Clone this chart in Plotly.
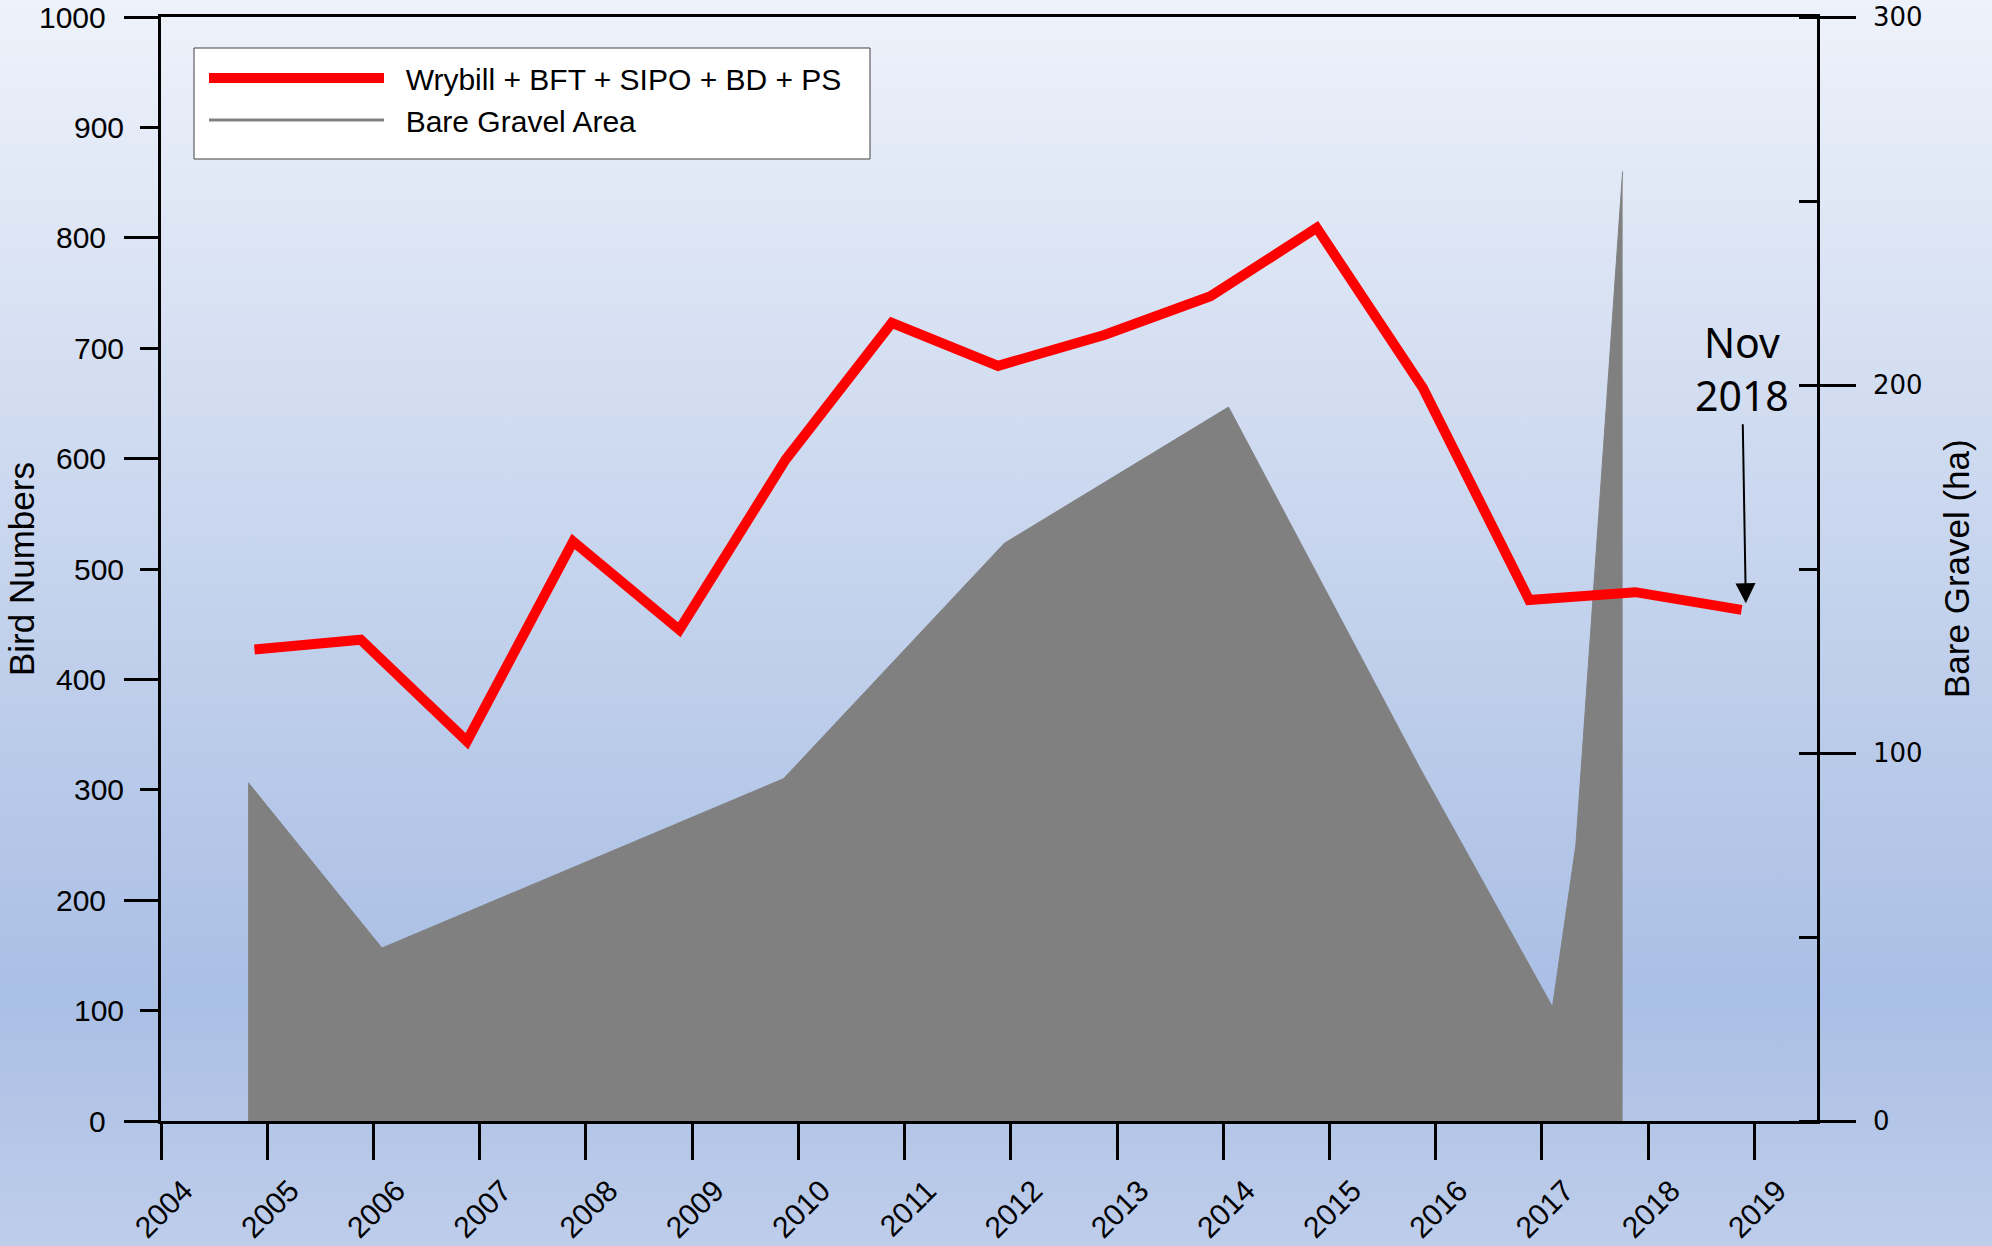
import base64
import plotly.graph_objects as go

# survey dates (decimal years) and bird totals
bird_x = [2004.88, 2005.88, 2006.88, 2007.88, 2008.88, 2009.88, 2010.88, 2011.88,
          2012.88, 2013.88, 2014.88, 2015.88, 2016.88, 2017.88, 2018.88]
bird_numbers = [427, 436, 344, 525, 445, 599, 723, 684, 712, 747, 809, 664, 472, 479, 463]

# bare gravel area (ha)
gravel_x = [2004.82, 2006.08, 2009.86, 2011.94, 2014.05, 2015.85, 2017.10, 2017.32, 2017.76]
gravel_ha = [92, 47, 93, 157, 194, 96, 31, 75, 258]

year_ticks = list(range(2004, 2020))
bird_ticks = list(range(0, 1001, 100))
gravel_ticks = [0, 100, 200, 300]

W, H = 1992, 1246
L, T = 161, 17
R, B = W - 1817, H - 1121
PW, PH = W - L - R, H - T - B

FONT = "Arial, Liberation Sans, sans-serif"
NBSP = "\u00a0\u00a0"

svg = (
    '<svg xmlns="http://www.w3.org/2000/svg" width="%d" height="%d" preserveAspectRatio="none">'
    '<defs><linearGradient id="g" x1="0" y1="0" x2="0" y2="1">'
    '<stop offset="0" stop-color="#EEF2FA"/>'
    '<stop offset="0.5" stop-color="#C2D1EC"/>'
    '<stop offset="0.8" stop-color="#AABFE5"/>'
    '<stop offset="1" stop-color="#BECDEA"/>'
    '</linearGradient></defs>'
    '<rect width="%d" height="%d" fill="url(#g)"/></svg>' % (W, H, W, H)
)
bg_src = "data:image/svg+xml;base64," + base64.b64encode(svg.encode()).decode()


# page pixel -> paper coordinate
def px_x(p):
    return (p - L) / PW


def px_y(p):
    return 1 - (p - T) / PH


fig = go.Figure()

fig.add_trace(go.Scatter(
    x=gravel_x, y=gravel_ha, yaxis="y",
    mode="lines", fill="tozeroy",
    line=dict(color="#808080", width=1), fillcolor="#808080",
    showlegend=False, hoverinfo="skip"))

fig.add_trace(go.Scatter(
    x=bird_x, y=bird_numbers, yaxis="y2",
    mode="lines", name=NBSP + "Wrybill + BFT + SIPO + BD + PS",
    line=dict(color="#FF0000", width=10)))

# legend entry for the area (plain line like the original)
fig.add_trace(go.Scatter(
    x=[None], y=[None], yaxis="y2", mode="lines",
    name=NBSP + "Bare Gravel Area", line=dict(color="#808080", width=3)))

# dummy trace so yaxis3 (long ticks) is drawn
fig.add_trace(go.Scatter(x=[None], y=[None], yaxis="y3", showlegend=False, hoverinfo="skip"))

axis_common = dict(showgrid=False, zeroline=False, linecolor="black",
                   tickcolor="black", tickwidth=3, automargin=False,
                   ticklabeloverflow="allow")

# y tick labels: like the original, each label sits a fixed gap from the end of its own tick
tick_labels = []
for v in bird_ticks:
    tick_labels.append(dict(
        x=px_x(108 if v % 200 == 0 else 126), y=v, xref="paper", yref="y2",
        text=str(v), showarrow=False, xanchor="right", yanchor="middle",
        font=dict(size=30)))
for v in gravel_ticks:
    tick_labels.append(dict(
        x=px_x(1871), y=v, xref="paper", yref="y",
        text=str(v), showarrow=False, xanchor="left", yanchor="middle",
        font=dict(family="DejaVu Sans, sans-serif", size=26)))

fig.update_layout(
    width=W, height=H,
    margin=dict(l=L, r=R, t=T, b=B),
    paper_bgcolor="#D0DCF0",
    plot_bgcolor="rgba(0,0,0,0)",
    font=dict(family=FONT, size=30, color="black"),
    images=[dict(source=bg_src, xref="paper", yref="paper",
                 x=-L / PW, y=1 + T / PH, sizex=W / PW, sizey=H / PH,
                 xanchor="left", yanchor="top", sizing="stretch", layer="below")],
    xaxis=dict(range=[2004, 2019.59], tickvals=year_ticks, ticktext=[str(y) for y in year_ticks],
               ticks="outside", ticklen=36, tickangle=-45, showline=True, linewidth=3, mirror=True,
               ticklabelshift=23, ticklabelstandoff=1,
               tickfont=dict(size=30), **axis_common),
    yaxis=dict(range=[0, 300], side="right", tickvals=gravel_ticks,
               ticks="outside", ticklen=36, showline=True, linewidth=3,
               showticklabels=False,
               minor=dict(dtick=50, ticks="inside", ticklen=18, tickwidth=3, tickcolor="black"),
               **axis_common),
    yaxis2=dict(range=[0, 1000], side="left", overlaying="y", tickvals=bird_ticks,
                ticks="outside", ticklen=18, showline=True, linewidth=3,
                showticklabels=False,
                **axis_common),
    yaxis3=dict(range=[0, 1000], side="left", overlaying="y", dtick=200,
                ticks="outside", ticklen=36, showticklabels=False, showline=False,
                **axis_common),
    shapes=[dict(type="rect", xref="paper", yref="paper", layer="above",
                 x0=px_x(194), x1=px_x(870), y0=px_y(159), y1=px_y(48),
                 fillcolor="white", line=dict(color="#404040", width=1))],
    legend=dict(x=px_x(204), y=px_y(52), xanchor="left", yanchor="top",
                bgcolor="rgba(0,0,0,0)", borderwidth=0,
                font=dict(size=30), itemwidth=175, traceorder="normal"),
    annotations=tick_labels + [
        dict(x=2018.92, y=469, xref="x", yref="y2",
             text="Nov<br>2018", showarrow=True,
             ax=-4, ay=-235, arrowhead=2, arrowsize=2, arrowwidth=2,
             arrowcolor="black",
             font=dict(family="Noto Sans, sans-serif", size=41, color="black")),
        dict(x=px_x(21), y=0.5, xref="paper", yref="paper", showarrow=False,
             text="Bird Numbers", textangle=-90, font=dict(size=35),
             xanchor="center", yanchor="middle"),
        dict(x=px_x(1956), y=0.5, xref="paper", yref="paper", showarrow=False,
             text="Bare Gravel (ha)", textangle=-90, font=dict(size=35),
             xanchor="center", yanchor="middle"),
    ],
)

# drop the default 8px page margin so the figure fills the window
fig.write_html("out.html", config={"displayModeBar": False},
               post_script="document.body.style.margin='0px';")
